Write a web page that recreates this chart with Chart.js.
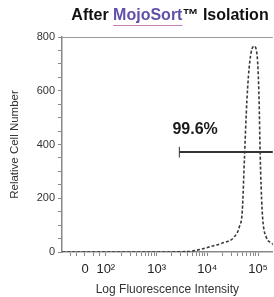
<!DOCTYPE html>
<html>
<head>
<meta charset="utf-8">
<script src="https://cdn.jsdelivr.net/npm/chart.js@4.4.1/dist/chart.umd.min.js"></script>
<style>
    body { margin: 0; background: #fff; }
    #wrap { width: 274px; height: 297px; position: relative; }
</style>
</head>
<body>
<div id="wrap"><canvas id="histChart"></canvas></div>
<script>
// fluorescence position in decades (2 = 10^2) and relative cell number
const intensidade = [1.14, 2.0, 3.0, 3.65, 3.80, 4.04, 4.29, 4.53, 4.63, 4.69, 4.73, 4.78, 4.84, 4.92, 4.98, 5.02, 5.04, 5.08, 5.16, 5.27, 5.35];
const celulas = [0, 0, 0, 2, 7, 19, 33, 56, 93, 156, 342, 565, 714, 766, 733, 565, 372, 156, 56, 33, 15];

// gate marker
const gateInicio = 3.45;
const gateFim = 5.5;
const gateNivel = 372;
const gateTexto = '99.6%';
const gateTextoX = 3.76;
const gateTextoY = 454;

// x axis tick labels
const xTicks = [1.59, 2, 3, 4, 5];
const xLabels = ['0', '10²', '10³', '10⁴', '10⁵'];
const yLabels = ['0', '200', '400', '600', '800'];

let minorTicks = [1.3, 1.42, 1.76, 1.88];
for (let d = 2; d <= 5; d++) {
    for (let k = 2; k <= 9; k++) {
        let v = d + Math.log10(k);
        if (v < 5.29) minorTicks.push(v);
    }
}

const titulo = [
    { text: 'After ', color: '#111', underline: false },
    { text: 'MojoSort', color: '#6250a8', underline: true },
    { text: '™ Isolation', color: '#111', underline: false }
];

const extras = {
    id: 'extras',
    afterDraw(chart) {
        const ctx = chart.ctx;
        const area = chart.chartArea;
        const x = chart.scales.x;
        const y = chart.scales.y;
        ctx.save();
        // top frame line
        ctx.strokeStyle = '#999';
        ctx.lineWidth = 1;
        ctx.beginPath();
        ctx.moveTo(area.left, area.top + 0.5);
        ctx.lineTo(area.right, area.top + 0.5);
        ctx.stroke();

        // gate label
        ctx.fillStyle = '#1a1a1a';
        ctx.font = 'bold 16px "Liberation Sans", Arial, sans-serif';
        ctx.textAlign = 'center';
        ctx.textBaseline = 'middle';
        ctx.fillText(gateTexto, x.getPixelForValue(gateTextoX), y.getPixelForValue(gateTextoY));

        // title with coloured part
        ctx.font = 'bold 16px "Liberation Sans", Arial, sans-serif';
        ctx.textAlign = 'left';
        ctx.textBaseline = 'middle';
        let total = 0;
        titulo.forEach(p => total += ctx.measureText(p.text).width);
        let tx = 170 - total / 2;
        titulo.forEach(p => {
            const w = ctx.measureText(p.text).width;
            ctx.fillStyle = p.color;
            ctx.fillText(p.text, tx, 16);
            if (p.underline) {
                ctx.strokeStyle = '#c77fb8';
                ctx.lineWidth = 1;
                ctx.beginPath();
                ctx.moveTo(tx, 25.5);
                ctx.lineTo(tx + w, 25.5);
                ctx.stroke();
            }
            tx += w;
        });
        ctx.restore();
    }
};

function histChart() {
    const ctx = document.getElementById('histChart');
    let pontos = [];
    for (let i = 0; i < intensidade.length; i++) {
        pontos[i] = { x: intensidade[i], y: celulas[i] };
    }
    new Chart(ctx, {
        type: 'line',
        data: {
            datasets: [{
                data: pontos,
                borderColor: '#3a3a3a',
                borderWidth: 1.6,
                borderDash: [3, 2],
                pointRadius: 0,
                cubicInterpolationMode: 'monotone',
                fill: false
            }, {
                data: [{ x: gateInicio, y: gateNivel }, { x: gateFim, y: gateNivel }],
                borderColor: '#333',
                borderWidth: 2,
                pointRadius: 0
            }, {
                data: [{ x: gateInicio, y: gateNivel + 20 }, { x: gateInicio, y: gateNivel - 20 }],
                borderColor: '#555',
                borderWidth: 1.2,
                pointRadius: 0
            }]
        },
        options: {
            responsive: true,
            maintainAspectRatio: false,
            animation: false,
            layout: { padding: { top: 37, right: 0, left: 0, bottom: 0 } },
            plugins: {
                legend: { display: false },
                tooltip: { enabled: false }
            },
            scales: {
                x: {
                    type: 'linear',
                    min: 1.137,
                    max: 5.29,
                    afterFit: (scale) => { scale.height = 45; },
                    afterBuildTicks: (scale) => {
                        scale.ticks = xTicks.concat(minorTicks).sort((a, b) => a - b).map(v => ({ value: v }));
                    },
                    ticks: {
                        autoSkip: false,
                        maxRotation: 0,
                        padding: 6,
                        color: '#222',
                        font: { size: 13, family: '"Liberation Sans", Arial, sans-serif' },
                        callback: (value) => {
                            let i = xTicks.indexOf(value);
                            return i >= 0 ? xLabels[i] : '';
                        }
                    },
                    grid: {
                        drawOnChartArea: false,
                        tickLength: 4,
                        tickColor: '#888'
                    },
                    border: { color: '#888', width: 1.5 },
                    title: {
                        display: true,
                        text: 'Log Fluorescence Intensity',
                        color: '#333',
                        padding: { top: 0, bottom: 0 },
                        font: { size: 12, family: '"Liberation Sans", Arial, sans-serif' }
                    }
                },
                y: {
                    min: 0,
                    max: 800,
                    afterFit: (scale) => { scale.width = 62; },
                    ticks: {
                        stepSize: 50,
                        autoSkip: false,
                        padding: 3,
                        color: '#333',
                        font: { size: 11, family: '"Liberation Sans", Arial, sans-serif' },
                        callback: (value) => {
                            let i = yLabels.indexOf(String(value));
                            return i >= 0 ? yLabels[i] : '';
                        }
                    },
                    grid: {
                        drawOnChartArea: false,
                        tickLength: 4,
                        tickColor: '#888'
                    },
                    border: { color: '#888', width: 1.5 },
                    title: {
                        display: true,
                        text: 'Relative Cell Number',
                        color: '#333',
                        padding: { top: 8, bottom: 0 },
                        font: { size: 11.5, family: '"Liberation Sans", Arial, sans-serif' }
                    }
                }
            }
        },
        plugins: [extras]
    });
}

histChart();
</script>
</body>
</html>
